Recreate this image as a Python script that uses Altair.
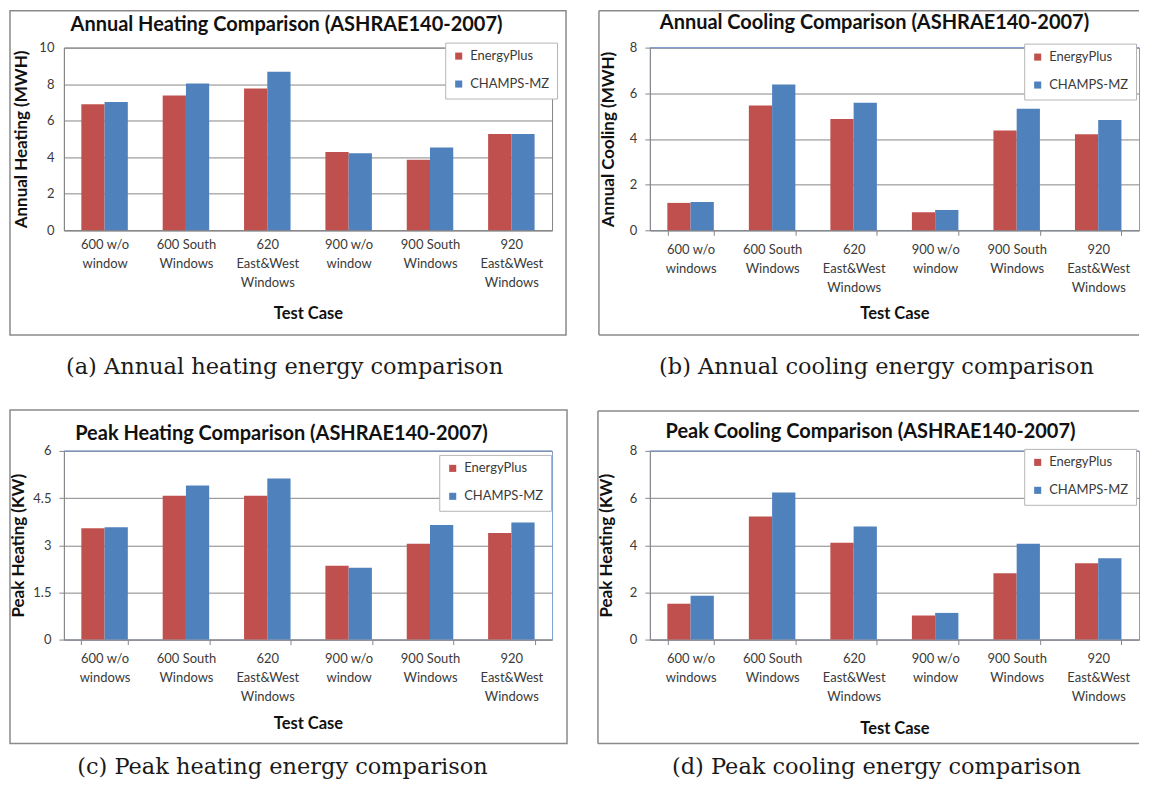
import altair as alt
import pandas as pd

series = ["EnergyPlus", "CHAMPS-MZ"]
colors = ["#C0504D", "#4F81BD"]

cases_a = ["600 w/o\nwindow", "600 South\nWindows", "620\nEast&West\nWindows",
           "900 w/o\nwindow", "900 South\nWindows", "920\nEast&West\nWindows"]
cases_bcd = ["600 w/o\nwindows", "600 South\nWindows", "620\nEast&West\nWindows",
             "900 w/o\nwindow", "900 South\nWindows", "920\nEast&West\nWindows"]

annual_heat_ep = [6.90, 7.38, 7.76, 4.28, 3.86, 5.27]
annual_heat_ch = [7.02, 8.03, 8.68, 4.22, 4.53, 5.27]
annual_cool_ep = [1.20, 5.47, 4.87, 0.79, 4.37, 4.21]
annual_cool_ch = [1.24, 6.38, 5.58, 0.89, 5.32, 4.83]
peak_heat_ep = [3.54, 4.57, 4.57, 2.35, 3.05, 3.39]
peak_heat_ch = [3.57, 4.90, 5.12, 2.28, 3.64, 3.72]
peak_cool_ep = [1.52, 5.22, 4.11, 1.02, 2.81, 3.24]
peak_cool_ch = [1.86, 6.24, 4.79, 1.13, 4.06, 3.45]

titles = ["Annual Heating Comparison (ASHRAE140-2007)",
          "Annual Cooling Comparison (ASHRAE140-2007)",
          "Peak Heating Comparison (ASHRAE140-2007)",
          "Peak Cooling Comparison (ASHRAE140-2007)"]
captions = ["(a) Annual heating energy comparison",
            "(b) Annual cooling energy comparison",
            "(c) Peak heating energy comparison",
            "(d) Peak cooling energy comparison"]
y_titles = ["Annual Heating (MWH)", "Annual Cooling (MWH)",
            "Peak Heating (KW)", "Peak Heating (KW)"]
y_ticks = [[0, 2, 4, 6, 8, 10], [0, 2, 4, 6, 8], [0, 1.5, 3, 4.5, 6], [0, 2, 4, 6, 8]]
x_title = "Test Case"

GRAY = "#868686"
BOX = "#8a8a8a"
BLUE_BORDER = "#7d9fd0"
LABEL = "#3a3a3a"
FONT = "Lato"


def panel(cases, ep, ch, ymax, yvals, ytitle, title, caption, W, H, lay):
    df = pd.DataFrame({
        "case": cases + cases,
        "series": [series[0]] * len(cases) + [series[1]] * len(cases),
        "value": ep + ch,
    })
    one = pd.DataFrame({"t": [title]})
    cap = pd.DataFrame({"t": [caption]})
    ticks = lay["ticks"]

    bars = alt.Chart(df).mark_bar().encode(
        x=alt.X("case:N", sort=cases,
                scale=alt.Scale(paddingInner=0.4286, paddingOuter=0.2143),
                axis=alt.Axis(title=x_title, labelAngle=0,
                              labelExpr="split(datum.label, '\\n')",
                              labelLineHeight=19, labelBaseline="top",
                              labelPadding=8, labelOverlap=False,
                              labelFont=FONT, labelFontSize=13, labelColor=LABEL,
                              ticks=ticks, tickSize=5 if ticks else 0,
                              tickBand="extent", tickColor=GRAY, tickWidth=1,
                              domainColor=GRAY, domainWidth=1, grid=False,
                              titleFont=FONT, titleFontSize=16.5, titleFontWeight="bold",
                              titleColor="#111111", titleY=lay["xtitle_y"],
                              titleBaseline="middle")),
        xOffset=alt.XOffset("series:N", sort=series,
                            scale=alt.Scale(paddingInner=0, paddingOuter=0)),
        y=alt.Y("value:Q", scale=alt.Scale(domain=[0, ymax], nice=False),
                axis=alt.Axis(title=ytitle, values=yvals,
                              labelExpr="'' + datum.value",
                              grid=True, gridColor=GRAY, gridWidth=1,
                              ticks=ticks, tickSize=5 if ticks else 0, tickColor=GRAY,
                              domainColor=GRAY, domainWidth=1,
                              labelFont=FONT, labelFontSize=13, labelColor=LABEL,
                              labelPadding=8 if ticks else 10,
                              titleFont=FONT, titleFontSize=17, titleFontWeight="bold",
                              titleColor="#111111", titleX=lay["ytitle_x"],
                              titleBaseline="middle")),
        color=alt.Color("series:N", sort=series,
                        scale=alt.Scale(domain=series, range=colors),
                        legend=alt.Legend(title=None, orient="none",
                                          legendX=lay["legend"][0], legendY=lay["legend"][1],
                                          symbolType="square", symbolSize=50,
                                          symbolStrokeWidth=0, labelFont=FONT,
                                          labelFontSize=13, labelColor=LABEL,
                                          rowPadding=14, padding=7,
                                          fillColor="white", strokeColor="#b5b5b5",
                                          labelOffset=5)),
    )

    layers = []
    bl, bt, br, bb = lay["box"]
    if br is not None:
        layers.append(alt.Chart(one).mark_rect(fill="transparent", stroke=BOX, strokeWidth=1.5)
                      .encode(x=alt.value(bl), x2=alt.value(br), y=alt.value(bt), y2=alt.value(bb)))
    else:
        layers.append(alt.Chart(one).mark_rule(color=BOX, strokeWidth=1.5)
                      .encode(x=alt.value(bl), x2=alt.value(W), y=alt.value(bt)))
        layers.append(alt.Chart(one).mark_rule(color=BOX, strokeWidth=1.5)
                      .encode(x=alt.value(bl), x2=alt.value(W), y=alt.value(bb)))
        layers.append(alt.Chart(one).mark_rule(color=BOX, strokeWidth=1.5)
                      .encode(x=alt.value(bl), y=alt.value(bt), y2=alt.value(bb)))
    layers.append(bars)
    if lay["border"] != GRAY:
        layers.append(alt.Chart(one).mark_rule(color=lay["border"], strokeWidth=1)
                      .encode(x=alt.value(0), x2=alt.value(W), y=alt.value(0)))
    layers.append(alt.Chart(one).mark_text(font=FONT, fontWeight="bold", fontSize=20,
                                           color="#111111", align="center", baseline="middle")
                  .encode(x=alt.value(lay["title"][0]), y=alt.value(lay["title"][1]), text="t:N"))
    layers.append(alt.Chart(cap).mark_text(font="DejaVu Serif", fontSize=22.5,
                                           color="#1a1a1a", align="center", baseline="middle")
                  .encode(x=alt.value(lay["caption"][0]), y=alt.value(lay["caption"][1]), text="t:N"))

    return alt.layer(*layers).properties(
        width=W, height=H,
        view=alt.ViewBackground(stroke=lay["border"], strokeWidth=1),
    )


W1, W2 = 489, 490
H1, H2 = 183, 189

pa = panel(cases_a, annual_heat_ep, annual_heat_ch, 10, y_ticks[0], y_titles[0],
           titles[0], captions[0], W1, H1,
           dict(ticks=False, border=GRAY, box=(-54, -37, 503, 288), title=(223, -23),
                caption=(221, 320), legend=(382, -5), ytitle_x=-42, xtitle_y=83))
pb = panel(cases_bcd, annual_cool_ep, annual_cool_ch, 8, y_ticks[1], y_titles[1],
           titles[1], captions[1], W2, H1,
           dict(ticks=True, border=BLUE_BORDER, box=(-51, -37, None, 288), title=(225, -25),
                caption=(227, 320), legend=(375, -4), ytitle_x=-41, xtitle_y=83))
pc = panel(cases_bcd, peak_heat_ep, peak_heat_ch, 6, y_ticks[2], y_titles[2],
           titles[2], captions[2], W1, H2,
           dict(ticks=True, border=BLUE_BORDER, box=(-54, -41, 504, 293), title=(218, -17),
                caption=(219, 317), legend=(376, 4), ytitle_x=-45, xtitle_y=84))
pd_ = panel(cases_bcd, peak_cool_ep, peak_cool_ch, 8, y_ticks[3], y_titles[3],
            titles[3], captions[3], W2, H2,
            dict(ticks=True, border=BLUE_BORDER, box=(-52, -40, None, 293), title=(221, -19),
                 caption=(227, 317), legend=(375, -2), ytitle_x=-43, xtitle_y=89))

chart = alt.concat(pa, pb, pc, pd_, columns=2, bounds="flush", align="each",
                   spacing={"row": 221, "column": 98}).resolve_scale(
    color="independent").properties(padding=0).configure(font=FONT)

chart.save("out.html", embed_options={"renderer": "svg", "actions": False})
